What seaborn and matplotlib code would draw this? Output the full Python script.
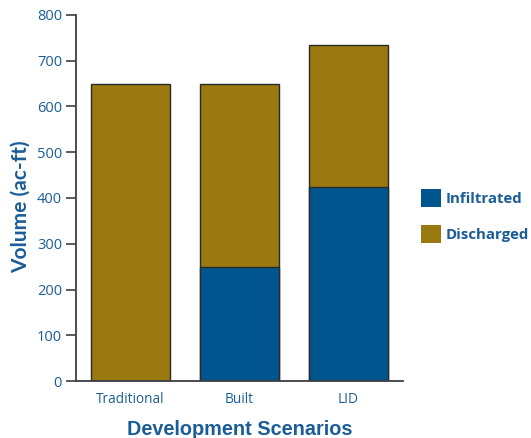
import matplotlib
matplotlib.use("Agg")
import matplotlib.pyplot as plt
from matplotlib.patches import Patch
import seaborn as sns
import pandas as pd

categories = ["Traditional", "Built", "LID"]
infiltrated = [0, 250, 425]
discharged = [650, 400, 310]
series_names = ["Infiltrated", "Discharged"]
y_ticks = [0, 100, 200, 300, 400, 500, 600, 700, 800]

BLUE = "#00558f"
GOLD = "#9a7a10"
TXT = "#1b5d98"
AX = "#3a3f45"

sns.set_style("white")
plt.rcParams["font.family"] = ["Open Sans", "DejaVu Sans"]

totals = [i + d for i, d in zip(infiltrated, discharged)]
df = pd.DataFrame({"cat": categories, "total": totals, "inf": infiltrated})

fig = plt.figure(figsize=(5.31, 4.38), dpi=100)
ax = fig.add_axes([0.1431, 0.1301, 0.759 - 0.1431, 0.9658 - 0.1301])

sns.barplot(data=df, x="cat", y="total", color=GOLD, saturation=1, width=0.72,
            edgecolor="#2a2a2a", linewidth=1.0, ax=ax)
sns.barplot(data=df, x="cat", y="inf", color=BLUE, saturation=1, width=0.72,
            edgecolor="#2a2a2a", linewidth=1.0, ax=ax)

ax.set_xlim(-0.5, 2.5)
ax.set_ylim(0, 800)
ax.set_yticks(y_ticks)
ax.set_yticklabels([str(v) for v in y_ticks])
ax.set_xticks(range(len(categories)))
ax.set_xticklabels(categories)
ax.set_xticks([-0.5, 0.5, 1.5, 2.5], minor=True)
ax.tick_params(axis="x", which="major", length=0, pad=8, labelsize=9.8, labelcolor=TXT)
ax.tick_params(axis="x", which="minor", direction="in", length=7, width=1.2, color=AX)
ax.tick_params(axis="y", which="major", direction="out", length=7, width=1.2, color=AX,
               labelsize=10.5, labelcolor=TXT, pad=3, left=True)

for s in ["top", "right"]:
    ax.spines[s].set_visible(False)
for s in ["left", "bottom"]:
    ax.spines[s].set_color(AX)
    ax.spines[s].set_linewidth(1.3)

ax.set_xlabel("Development Scenarios", fontsize=14.3, fontweight="bold", color=TXT, labelpad=9,
              family=["Liberation Sans", "DejaVu Sans"])
ax.set_ylabel("Volume (ac-ft)", fontsize=15, fontweight="bold", color=TXT,
              family=["Lato", "DejaVu Sans"])
ax.yaxis.set_label_coords(-0.1376, 0.475)

handles = [Patch(facecolor=BLUE, edgecolor="none"), Patch(facecolor=GOLD, edgecolor="none")]
leg = fig.legend(handles, series_names, loc="upper left", bbox_to_anchor=(0.7928, 0.5680),
                 frameon=False, borderpad=0, borderaxespad=0, handlelength=1.35,
                 handleheight=1.45, handletextpad=0.32, labelspacing=1.2,
                 prop={"weight": "bold", "size": 10.8})
for t in leg.get_texts():
    t.set_color(TXT)

fig.savefig("out.png", dpi=100)
